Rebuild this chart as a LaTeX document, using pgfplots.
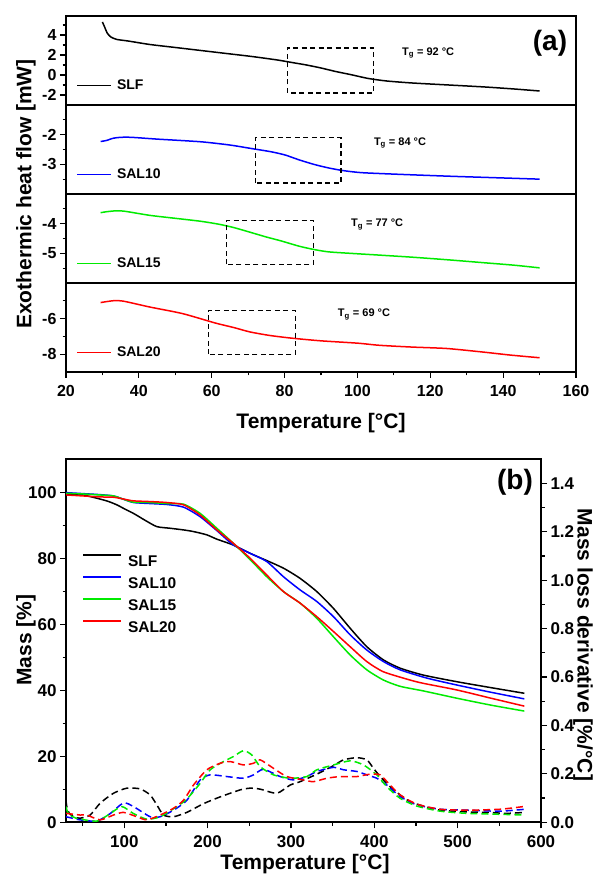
\documentclass[border=0pt]{standalone}
\usepackage{fontspec}
\setmainfont{Liberation Sans}
\usepackage{pgfplots}
\pgfplotsset{compat=1.18}

\newcommand{\tickfont}{\bfseries\fontsize{16}{16}\selectfont}
\newcommand{\labfont}{\bfseries\fontsize{21}{21}\selectfont}
\newcommand{\tgfont}{\bfseries\fontsize{11}{11}\selectfont}

\definecolor{cblk}{RGB}{0,0,0}
\definecolor{cblu}{RGB}{0,0,255}
\definecolor{cgrn}{RGB}{0,235,0}
\definecolor{cred}{RGB}{255,0,0}

\tikzset{dbox/.style={black, line width=1.1pt, dash pattern=on 5pt off 3.5pt}}

\pgfplotsset{
  base/.style={
    scale only axis, anchor=south west,
    axis line style={line width=1.6pt},
    tick align=outside, major tick length=6pt, minor tick length=3.5pt,
    every tick/.style={black, line width=1.2pt},
    tick label style={font=\tickfont},
    xticklabel style={yshift=-3.5pt},
    /pgf/number format/assume math mode=true,
    ytick pos=left, xtick pos=bottom,
  },
  dsc/.style={
    base, width=510pt, height=89pt, xmin=20, xmax=160,
    legend cell align=left,
    legend style={draw=none, fill=none, at={(0,0.22)}, xshift=10pt, anchor=west,
      inner sep=0pt, nodes={inner sep=0pt}, column sep=5pt,
      font=\bfseries\fontsize{14}{14}\selectfont},
    legend image code/.code={\draw[#1, line width=1.8pt] (0pt,0pt) -- (34pt,0pt);},
  },
  notx/.style={xtick=\empty},
  crv/.style={line width=1.5pt, smooth, tension=0.4},
  dd/.style={line width=1.5pt, smooth, tension=0.4, dash pattern=on 7pt off 4pt},
}

\begin{document}
\begin{tikzpicture}
\path[use as bounding box] (0,0) rectangle (593pt,874pt);

% (a) DSC, four stacked panels
\begin{axis}[dsc, notx, at={(66pt,769pt)}, ymin=-3, ymax=5.9,
  ytick={-2,0,2,4}, minor ytick={-1,1,3,5}]
\addplot[crv, cblk] coordinates {
(30,5.3) (30.6,4.8) (31.3,4.2) (32.3,3.8) (34,3.55) (37,3.4) (43,3.05)
(50,2.75) (57,2.45) (64,2.15) (71,1.85) (78,1.5) (82,1.25) (86,1.0)
(90,0.7) (94,0.35) (98,0.05) (103,-0.35) (108,-0.6) (115,-0.8) (125,-1.0)
(135,-1.2) (143,-1.4) (150,-1.6)};
\addlegendentry{SLF}
\draw[dbox] (axis cs:80.7,-1.8) rectangle (axis cs:104.5,2.7);
\node[font=\tgfont] at (axis cs:119.4,2.2) {T\textsubscript{g} = 92 °C};
\end{axis}

\begin{axis}[dsc, notx, at={(66pt,680pt)}, ymin=-4, ymax=-1,
  ytick={-3,-2}, minor ytick={-3.5,-2.5,-1.5}]
\addplot[crv, cblu] coordinates {
(29.5,-2.23) (31,-2.2) (33,-2.12) (35,-2.09) (38,-2.09) (45,-2.15) (57,-2.24)
(65,-2.35) (71,-2.47) (76,-2.57) (80,-2.68) (84,-2.85) (88,-3.0) (92,-3.12)
(96,-3.21) (101,-3.28) (110,-3.33) (125,-3.4) (140,-3.46) (150,-3.5)};
\addlegendentry{SAL10}
\draw[dbox] (axis cs:71.9,-3.63) rectangle (axis cs:95.5,-2.11);
\node[font=\tgfont] at (axis cs:111.7,-2.28) {T\textsubscript{g} = 84 °C};
\end{axis}

\begin{axis}[dsc, notx, at={(66pt,591pt)}, ymin=-6, ymax=-3,
  ytick={-5,-4}, minor ytick={-5.5,-4.5,-3.5}]
\addplot[crv, cgrn] coordinates {
(29.5,-3.63) (31,-3.6) (33.4,-3.57) (36,-3.58) (43,-3.72) (50,-3.82) (57,-3.92)
(62,-4.02) (66,-4.13) (70,-4.27) (75,-4.45) (79,-4.58) (84,-4.76) (88,-4.87)
(92,-4.95) (98,-5.0) (106,-5.06) (115,-5.13) (125,-5.22) (135,-5.32)
(143,-5.4) (150,-5.49)};
\addlegendentry{SAL15}
\draw[dbox] (axis cs:64.1,-5.37) rectangle (axis cs:87.9,-3.89);
\node[font=\tgfont] at (axis cs:105.4,-4.02) {T\textsubscript{g} = 77 °C};
\end{axis}

\begin{axis}[dsc, at={(66pt,502pt)}, ymin=-9, ymax=-4,
  ytick={-8,-6}, minor ytick={-7,-5},
  xtick={20,40,...,160}, minor xtick={30,50,...,150}]
\addplot[crv, cred] coordinates {
(29.5,-5.1) (31,-5.05) (33.4,-4.99) (36,-5.03) (43,-5.35) (52,-5.72) (61,-6.25)
(66,-6.5) (70.5,-6.75) (76,-6.95) (82,-7.1) (90,-7.25) (100,-7.38) (106,-7.5)
(115,-7.6) (124.5,-7.68) (134,-7.87) (142,-8.05) (150,-8.2)};
\addlegendentry{SAL20}
\draw[dbox] (axis cs:59.1,-8.0) rectangle (axis cs:82.9,-5.53);
\node[font=\tgfont] at (axis cs:101.8,-5.78) {T\textsubscript{g} = 69 °C};
\end{axis}

\node[font=\labfont, rotate=90] at (26pt,680pt) {Exothermic heat flow [mW]};
\node[font=\labfont] at (321pt,451pt) {Temperature [°C]};
\node[font=\bfseries\fontsize{28}{28}\selectfont] at (550pt,831pt) {(a)};

% (b) TGA with derivative
\begin{axis}[base, at={(66pt,51.7pt)}, width=475pt, height=363pt,
  xmin=30, xmax=600, ymin=0, ymax=110,
  xtick={100,200,...,600}, minor xtick={50,150,...,550},
  ytick={0,20,...,100}, minor ytick={10,30,...,90},
  tick label style={font=\bfseries\fontsize{17}{17}\selectfont},
  legend cell align=left,
  legend style={draw=none, fill=none, at={(0,0.631)}, xshift=16pt, anchor=west,
    inner sep=0pt, nodes={inner sep=0pt, text height=11pt, text depth=0pt},
    column sep=6pt, row sep=10pt,
    font=\bfseries\fontsize{15.5}{15.5}\selectfont},
  legend image code/.code={\draw[#1, line width=1.8pt] (0pt,5.5pt) -- (38pt,5.5pt);}]
\addplot[crv, cblk] coordinates {
(30,99.5) (50,99.2) (67,98.2) (80,97.3) (91,96.2) (100,95.0) (111,93.6)
(125,91.5) (139,89.6) (155,89.1) (171,88.6) (183,88.1) (199,87.1) (211,85.8)
(231,84.0) (251,81.5) (271,79.3) (291,77.0) (311,73.9) (331,69.9) (351,64.8)
(371,58.8) (391,53.2) (411,49.2) (431,46.7) (459,44.6) (499,42.6) (540,40.8)
(580,39.1)};
\addlegendentry{SLF}
\addplot[crv, cblu] coordinates {
(30,99.9) (50,99.6) (70,99.3) (87,98.9) (100,97.8) (111,96.9) (130,96.6)
(151,96.3) (171,95.5) (191,92.6) (211,88.4) (231,84.0) (251,81.5) (271,79.0)
(291,74.4) (311,70.4) (331,66.9) (351,62.3) (371,56.8) (391,52.2) (411,48.7)
(431,46.2) (463,43.7) (499,41.6) (540,39.4) (580,37.4)};
\addlegendentry{SAL10}
\addplot[crv, cgrn] coordinates {
(30,99.7) (50,99.5) (70,99.2) (87,98.9) (100,97.8) (111,97.0) (130,96.9)
(151,96.6) (171,96.4) (191,93.6) (211,89.1) (231,84.5) (251,79.6) (271,74.4)
(291,69.9) (311,66.4) (331,61.8) (351,56.2) (371,50.7) (391,46.2) (411,43.1)
(431,41.2) (459,39.8) (499,37.6) (540,35.5) (580,33.7)};
\addlegendentry{SAL15}
\addplot[crv, cred] coordinates {
(30,99.2) (50,98.9) (70,98.6) (87,98.5) (100,97.9) (111,97.4) (130,97.2)
(151,96.9) (171,96.2) (191,93.1) (211,88.6) (231,84.5) (251,80.0) (271,74.9)
(291,69.9) (311,66.4) (331,62.3) (351,57.8) (371,53.2) (391,48.7) (411,45.6)
(443,43.1) (459,42.1) (499,40.1) (540,37.6) (580,35.2)};
\addlegendentry{SAL20}
\end{axis}

\begin{axis}[base, at={(66pt,51.7pt)}, width=475pt, height=363pt,
  xmin=30, xmax=600, ymin=0, ymax=1.5,
  axis x line=none, axis y line*=right, ytick pos=right,
  ytick={0,0.2,0.4,0.6,0.8,1.0,1.2,1.4},
  minor ytick={0.1,0.3,0.5,0.7,0.9,1.1,1.3},
  tick label style={font=\bfseries\fontsize{17}{17}\selectfont},
  yticklabel style={/pgf/number format/.cd, fixed, fixed zerofill, precision=1}]
\addplot[dd, cblk] coordinates {
(30,0.09) (31,0.065) (34,0.037) (40,0.022) (47,0.017) (59,0.03) (71,0.079)
(87,0.12) (103,0.141) (119,0.138) (131,0.113) (139,0.072) (147,0.03)
(159,0.023) (175,0.041) (195,0.077) (215,0.105) (239,0.134) (251,0.141)
(263,0.137) (283,0.12) (299,0.154) (311,0.168) (331,0.199) (351,0.234)
(363,0.258) (379,0.267) (391,0.258) (399,0.223) (407,0.189) (419,0.147)
(431,0.113) (443,0.085) (459,0.067) (479,0.05) (511,0.043) (535,0.041)
(559,0.037) (581,0.041)};
\addplot[dd, cblu] coordinates {
(30,0.023) (40,0.015) (47,0.01) (67,0.005) (83,0.036) (99,0.08) (111,0.065)
(131,0.023) (143,0.023) (159,0.05) (175,0.091) (191,0.175) (203,0.196)
(223,0.189) (243,0.182) (255,0.196) (267,0.219) (287,0.189) (303,0.175)
(319,0.189) (331,0.21) (351,0.227) (363,0.217) (379,0.21) (391,0.196)
(403,0.182) (415,0.154) (431,0.106) (451,0.072) (479,0.054) (511,0.05)
(551,0.046) (581,0.054)};
\addplot[dd, cgrn] coordinates {
(30,0.065) (33,0.035) (42,0.017) (67,0.005) (83,0.036) (97,0.065) (111,0.036)
(127,0.013) (143,0.023) (163,0.065) (175,0.096) (191,0.161) (203,0.217)
(219,0.251) (231,0.272) (243,0.296) (253,0.278) (263,0.23) (279,0.196)
(299,0.182) (319,0.189) (331,0.217) (351,0.237) (371,0.254) (387,0.237)
(403,0.196) (415,0.147) (431,0.099) (451,0.067) (479,0.046) (511,0.037)
(551,0.033) (581,0.03)};
\addplot[dd, cred] coordinates {
(30,0.037) (47,0.03) (55,0.03) (71,0.01) (87,0.03) (99,0.041) (115,0.023)
(127,0.01) (143,0.03) (159,0.058) (171,0.091) (183,0.154) (199,0.217)
(215,0.244) (227,0.251) (243,0.237) (255,0.244) (263,0.258) (279,0.223)
(295,0.189) (315,0.175) (327,0.168) (343,0.182) (359,0.189) (379,0.189)
(395,0.199) (407,0.196) (417,0.161) (431,0.113) (451,0.075) (479,0.054)
(511,0.05) (551,0.054) (579,0.065)};
\end{axis}

\node[font=\labfont] at (305pt,10pt) {Temperature [°C]};
\node[font=\labfont, rotate=90] at (26pt,234pt) {Mass [\%]};
\node[font=\labfont, rotate=-90] at (583pt,229pt) {Mass loss derivative [\%/°C]};
\node[font=\bfseries\fontsize{28}{28}\selectfont] at (515pt,392pt) {(b)};
\end{tikzpicture}
\end{document}
